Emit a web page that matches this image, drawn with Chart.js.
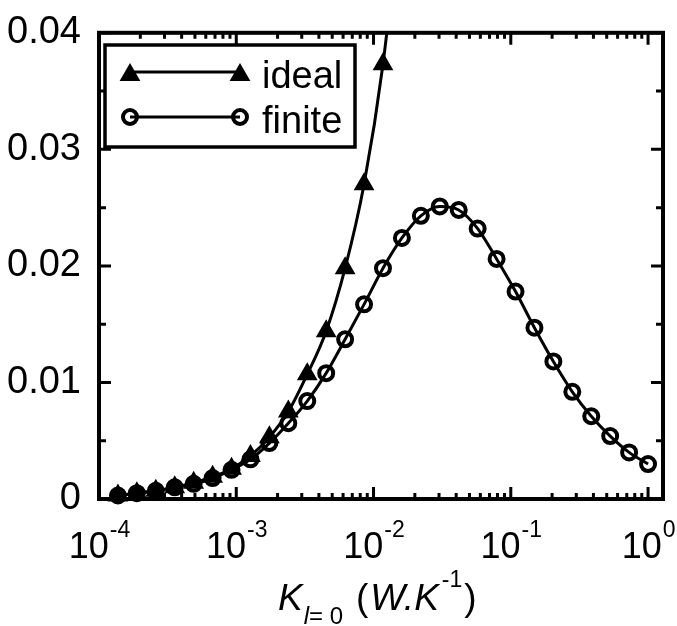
<!DOCTYPE html>
<html>
<head>
<meta charset="utf-8">
<script src="https://cdn.jsdelivr.net/npm/chart.js@4.4.0/dist/chart.umd.min.js"></script>
<style>
  html, body { margin: 0; padding: 0; background: #fff; }
  #wrap { width: 677px; height: 626px; }
</style>
</head>
<body>
<div id="wrap"><canvas id="kChart" width="677" height="626"></canvas></div>
<script>
// values (x is log spaced)
const conductance = [
  1.374e-4, 1.887e-4, 2.593e-4, 3.562e-4, 4.894e-4, 6.723e-4, 9.237e-4,
  1.269e-3, 1.743e-3, 2.395e-3, 3.290e-3, 4.520e-3, 6.210e-3, 8.532e-3,
  1.172e-2, 1.610e-2, 2.212e-2, 3.039e-2, 4.175e-2, 5.736e-2, 7.880e-2,
  0.1083, 0.1487, 0.2043, 0.2807, 0.3857, 0.5298, 0.7279, 1.0
];
const idealPower = [
  0.0003, 0.0005, 0.0007, 0.0010, 0.0014, 0.0019, 0.0026, 0.0037,
  0.0053, 0.0075, 0.0107, 0.0144, 0.0198, 0.0270, 0.0373, 0.052
];
const finitePower = [
  0.0003, 0.0005, 0.0007, 0.0010, 0.0013, 0.0018, 0.0025, 0.0034,
  0.0048, 0.0065, 0.0084, 0.0108, 0.0137, 0.0167, 0.0198, 0.0224,
  0.0243, 0.0251, 0.0248, 0.0232, 0.0206, 0.0178, 0.0147, 0.0118,
  0.0092, 0.0071, 0.0054, 0.0040, 0.0030
];
const decadeTicks = [1e-4, 1e-3, 1e-2, 1e-1, 1];
const decadeExponents = ["-4", "-3", "-2", "-1", "0"];
const seriesNames = ["ideal", "finite"];

const FONT = "'Liberation Sans', Arial, sans-serif";

const idealPoints = idealPower.map((y, i) => ({ x: conductance[i], y: y }));
const finitePoints = finitePower.map((y, i) => ({ x: conductance[i], y: y }));

// frame, inward ticks, x labels with exponents, title and the boxed legend
const framePlugin = {
  id: "frame",
  afterDraw(chart) {
    const { ctx, chartArea: a, scales } = chart;
    const xs = scales.x, ys = scales.y;
    ctx.save();
    ctx.strokeStyle = "#000";
    ctx.fillStyle = "#000";

    // ticks pointing into the plot on all four sides
    ctx.lineWidth = 3;
    ctx.beginPath();
    for (let d = -4; d <= 0; d++) {
      for (let m = 1; m <= 9; m++) {
        const v = m * Math.pow(10, d);
        if (v > xs.max) break;
        const px = xs.getPixelForValue(v);
        const len = m === 1 ? 12 : 6;
        ctx.moveTo(px, a.bottom); ctx.lineTo(px, a.bottom - len);
        ctx.moveTo(px, a.top); ctx.lineTo(px, a.top + len);
      }
    }
    for (let i = 0; i <= 8; i++) {
      const py = ys.getPixelForValue(i * 0.005);
      const len = i % 2 === 0 ? 12 : 7;
      ctx.moveTo(a.left, py); ctx.lineTo(a.left + len, py);
      ctx.moveTo(a.right, py); ctx.lineTo(a.right - len, py);
    }
    ctx.stroke();

    ctx.lineWidth = 4;
    ctx.strokeRect(a.left, a.top, a.right - a.left, a.bottom - a.top);

    // x tick labels: 10 with raised exponent
    ctx.textBaseline = "alphabetic";
    ctx.textAlign = "left";
    decadeTicks.forEach((v, i) => {
      const px = xs.getPixelForValue(v);
      ctx.font = "36px " + FONT;
      const w1 = ctx.measureText("10").width;
      ctx.font = "23px " + FONT;
      const w2 = ctx.measureText(decadeExponents[i]).width;
      const x0 = px - (w1 + w2) / 2;
      ctx.font = "36px " + FONT;
      ctx.fillText("10", x0, 558);
      ctx.font = "23px " + FONT;
      ctx.fillText(decadeExponents[i], x0 + w1 + 1, 537);
    });

    // axis title  K_{l=0} (W.K^-1)
    let cx = 278;
    ctx.font = "italic 37px " + FONT;
    ctx.fillText("K", cx, 610);
    cx += ctx.measureText("K").width + 1;
    ctx.font = "italic 24px " + FONT;
    ctx.fillText("l", cx, 624);
    cx += ctx.measureText("l").width;
    ctx.font = "24px " + FONT;
    ctx.fillText("= 0", cx, 624);
    cx = 356;
    ctx.font = "37px " + FONT;
    ctx.fillText("(", cx, 610);
    cx += ctx.measureText("(").width + 2;
    ctx.font = "italic 37px " + FONT;
    ctx.fillText("W.K", cx, 610);
    cx += ctx.measureText("W.K").width + 3;
    ctx.font = "23px " + FONT;
    ctx.fillText("-1", cx, 587);
    cx += ctx.measureText("-1").width + 2;
    ctx.font = "37px " + FONT;
    ctx.fillText(")", cx, 610);

    // legend box
    ctx.fillStyle = "#fff";
    ctx.fillRect(105, 45, 250, 102);
    ctx.lineWidth = 3.5;
    ctx.strokeRect(105, 45, 250, 102);
    const rows = [72, 117];
    chart.data.datasets.forEach((ds, i) => {
      const y = rows[i];
      ctx.strokeStyle = "#000";
      ctx.lineWidth = ds.borderWidth;
      ctx.beginPath();
      ctx.moveTo(130, y); ctx.lineTo(240, y);
      ctx.stroke();
      const opts = {
        pointStyle: ds.pointStyle,
        radius: ds.pointRadius,
        rotation: 0,
        borderWidth: ds.pointBorderWidth
      };
      [130, 240].forEach((lx) => {
        ctx.fillStyle = ds.pointBackgroundColor;
        ctx.strokeStyle = "#000";
        ctx.lineWidth = ds.pointBorderWidth;
        Chart.helpers.drawPoint(ctx, opts, lx, y + (ds.pointStyle === "triangle" ? 3 : 0));
      });
      ctx.fillStyle = "#000";
      ctx.font = "38px " + FONT;
      ctx.fillText(seriesNames[i], 262, y + 16);
    });
    ctx.restore();
  }
};

new Chart(document.getElementById("kChart"), {
  type: "line",
  data: {
    datasets: [
      {
        label: seriesNames[0],
        data: idealPoints,
        borderColor: "#000",
        borderWidth: 3,
        pointStyle: "triangle",
        pointRadius: 10,
        pointBorderWidth: 2,
        pointBackgroundColor: "#000",
        pointBorderColor: "#000",
        cubicInterpolationMode: "monotone",
        clip: { left: 12, right: 12, bottom: 12, top: 0 }
      },
      {
        label: seriesNames[1],
        data: finitePoints,
        borderColor: "#000",
        borderWidth: 3,
        pointStyle: "circle",
        pointRadius: 7,
        pointBorderWidth: 4,
        pointBackgroundColor: "rgba(0,0,0,0)",
        pointBorderColor: "#000",
        cubicInterpolationMode: "monotone",
        clip: { left: 12, right: 12, bottom: 12, top: 0 }
      }
    ]
  },
  options: {
    responsive: false,
    animation: false,
    layout: { padding: { left: 0, right: 14, top: 24, bottom: 0 } },
    plugins: { legend: { display: false }, tooltip: { enabled: false } },
    scales: {
      x: {
        type: "logarithmic",
        min: 1e-4,
        max: 1.285,
        grid: { display: false },
        border: { display: false },
        ticks: { display: false },
        afterFit: (scale) => { scale.height = 127; }
      },
      y: {
        min: 0,
        max: 0.04,
        grid: { display: false },
        border: { display: false },
        ticks: {
          stepSize: 0.005,
          padding: 10,
          color: "#000",
          font: { family: FONT, size: 38 },
          callback: (v) => {
            const n = Math.round(v * 1000);
            if (n % 10 !== 0) return "";
            return n === 0 ? "0" : v.toFixed(2);
          }
        },
        afterFit: (scale) => { scale.width = 99; }
      }
    }
  },
  plugins: [framePlugin]
});
</script>
</body>
</html>
